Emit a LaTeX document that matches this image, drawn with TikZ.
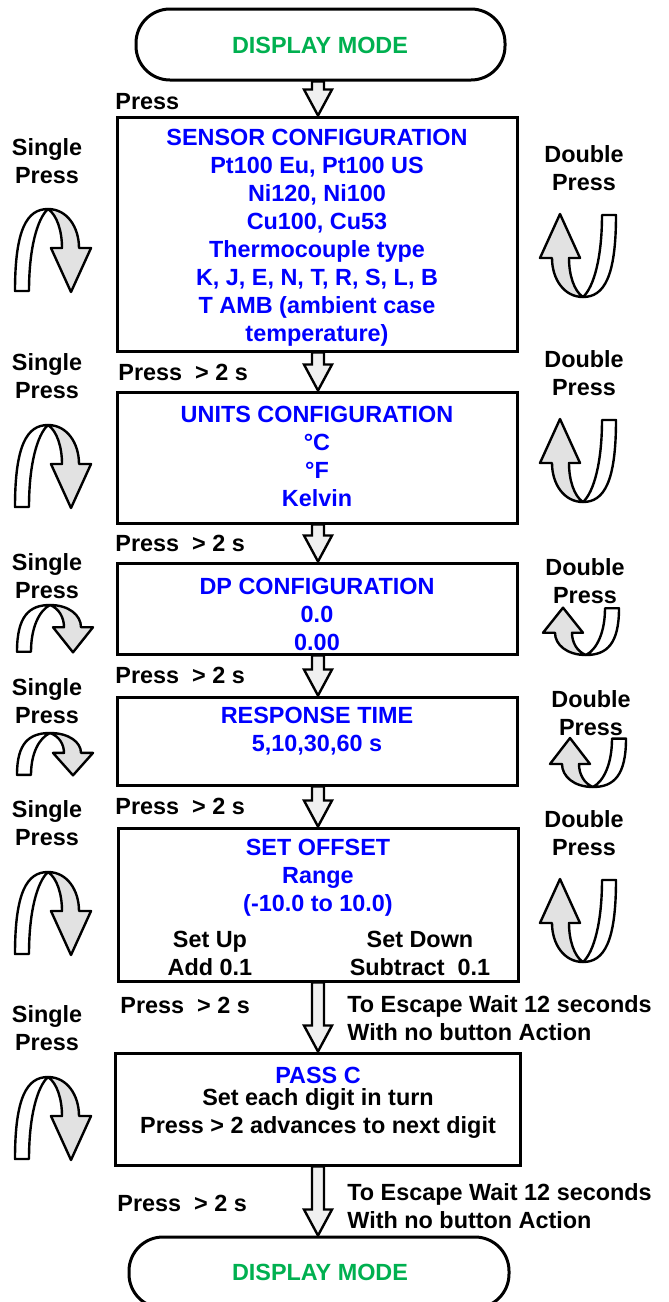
\documentclass[tikz,border=0pt]{standalone}
\usepackage{fontspec}
\setmainfont{Liberation Sans}
\usetikzlibrary{calc}
\pgfdeclarelayer{background}
\pgfsetlayers{background,main}
\definecolor{tblue}{RGB}{0,0,255}
\definecolor{tgreen}{RGB}{0,176,80}
\definecolor{agray}{RGB}{226,226,226}
\definecolor{bgray}{RGB}{240,240,240}
\newcommand\flowarrow[2]{%
  \path[barrow] let \p1=(#1.south), \p2=(#2.north), \p3=(col) in
    (\x3-3pt,\y1) -- (\x3-3pt,\y2+13pt) -- (\x3-7pt,\y2+13pt) -- (\x3,\y2)
    -- (\x3+7pt,\y2+13pt) -- (\x3+3pt,\y2+13pt) -- (\x3+3pt,\y1) -- cycle;}
\begin{document}
\begin{tikzpicture}[x=0.5pt,y=-0.5pt,
  txt/.style={font=\fontsize{11.7}{14}\selectfont\bfseries, inner sep=0pt, align=center},
  btxt/.style={txt, text=tblue},
  gtxt/.style={txt, text=tgreen},
  box/.style={draw, line width=1.5pt, rectangle, inner sep=0pt, minimum width=200pt},
  term/.style={draw, line width=1.5pt, rectangle, rounded corners=17pt, inner sep=0pt, minimum height=35.5pt},
  ribbon/.style={draw, line width=1.2pt, line join=round},
  barrow/.style={draw, line width=1.2pt, fill=bgray, line join=miter},
  sflip/.pic={
    \path[ribbon, fill=white] (0,82) .. controls (0,20) and (12,0) .. (33,0)
      .. controls (22,10) and (14,40) .. (14,82) -- cycle;
    \path[ribbon, fill=agray] (33,0) .. controls (52,0) and (64,18) .. (64,39)
      -- (76,39) -- (56,83) -- (36,39) -- (47,39)
      .. controls (47,22) and (42,6) .. (33,0) -- cycle;
  }
]
\useasboundingbox (0,0) rectangle (669,1302);
\begin{pgfonlayer}{background}
\fill[white] (0,0) rectangle (669,1302);
\end{pgfonlayer}
\coordinate (col) at (318,0);

% terminals and boxes
\node[term, minimum width=184.5pt] (t1) at (320.5,44.5) {};
\node[gtxt] (t1txt) at (320,45) {DISPLAY MODE};
\node[box, minimum height=117pt] (b1) at (317,234) {};
\node[box, minimum height=65.5pt] (b2) at (317,457.5) {};
\node[box, minimum height=45.5pt] (b3) at (317,608.5) {};
\node[box, minimum height=44pt] (b4) at (317,741) {};
\node[box, minimum height=76.5pt] (b5) at (318,904.5) {};
\node[box, minimum height=56pt, minimum width=202.5pt] (b6) at (318,1109) {};
\node[term, minimum width=190pt] (t2) at (319,1272.5) {};
\node[gtxt] (t2txt) at (320,1272) {DISPLAY MODE};

% connectors
\begin{pgfonlayer}{background}
\flowarrow{t1}{b1}
\flowarrow{b1}{b2}
\flowarrow{b2}{b3}
\flowarrow{b3}{b4}
\flowarrow{b4}{b5}
\flowarrow{b5}{b6}
\flowarrow{b6}{t2}
\end{pgfonlayer}

% box texts
\node[btxt] (b1txt) at (317,238) {SENSOR CONFIGURATION\\Pt100 Eu, Pt100 US\\Ni120, Ni100\\Cu100, Cu53\\Thermocouple type\\K, J, E, N, T, R, S, L, B\\T AMB (ambient case\\temperature)};
\node[btxt] (b2txt) at (317,456.5) {UNITS CONFIGURATION\\°C\\°F\\Kelvin};
\node[btxt] (b3txt) at (317,614) {DP CONFIGURATION\\0.0\\0.00};
\node[btxt] (b4txt) at (317,731.5) {RESPONSE TIME\\5,10,30,60 s};
\node[btxt] (b5txt) at (318,878) {SET OFFSET\\Range\\(-10.0 to 10.0)};
\node[txt] (b5up) at (210,953) {Set Up\\Add 0.1};
\node[txt] (b5down) at (420,953) {Set Down\\Subtract~~0.1};
\node[btxt] (b6title) at (318,1075) {PASS C};
\node[txt] (b6txt) at (318,1113) {Set each digit in turn\\Press > 2 advances to next digit};

% press labels
\node[txt, anchor=west] (p0) at (115,102) {Press};
\node[txt, anchor=west] (p1) at (118,372) {Press~ > 2 s};
\node[txt, anchor=west] (p2) at (115,543) {Press~ > 2 s};
\node[txt, anchor=west] (p3) at (115,675) {Press~ > 2 s};
\node[txt, anchor=west] (p4) at (115,806) {Press~ > 2 s};
\node[txt, anchor=west] (p5) at (120,1005) {Press~ > 2 s};
\node[txt, anchor=west] (p6) at (117,1203) {Press~ > 2 s};
\node[txt, anchor=west, align=left] (esc1) at (347,1018) {To Escape Wait 12 seconds\\With no button Action};
\node[txt, anchor=west, align=left] (esc2) at (347,1206) {To Escape Wait 12 seconds\\With no button Action};

% single press labels and arrows
\node[txt] (s1) at (47,161) {Single\\Press};
\node[txt] (s2) at (47,376) {Single\\Press};
\node[txt] (s3) at (47,576.5) {Single\\Press};
\node[txt] (s4) at (47,701.5) {Single\\Press};
\node[txt] (s5) at (47,823.5) {Single\\Press};
\node[txt] (s6) at (47,1028.5) {Single\\Press};
\pic at (15,209) {sflip};
\pic at (15,425) {sflip};
\pic[yscale=0.57] at (17,605) {sflip};
\pic[yscale=0.51] at (17,733) {sflip};
\pic at (15,872) {sflip};
\pic at (15,1077) {sflip};

% double press labels and arrows
\node[txt] (d1) at (584,168.5) {Double\\Press};
\node[txt] (d2) at (584,373.5) {Double\\Press};
\node[txt] (d3) at (585,581.5) {Double\\Press};
\node[txt] (d4) at (591,713.5) {Double\\Press};
\node[txt] (d5) at (584,833.5) {Double\\Press};
\pic[rotate=180] at (616,297) {sflip};
\pic[rotate=180] at (616,502) {sflip};
\pic[rotate=180, yscale=0.57] at (619,655) {sflip};
\pic[rotate=180, yscale=0.59] at (626,787) {sflip};
\pic[rotate=180] at (616,962) {sflip};
\end{tikzpicture}
\end{document}
